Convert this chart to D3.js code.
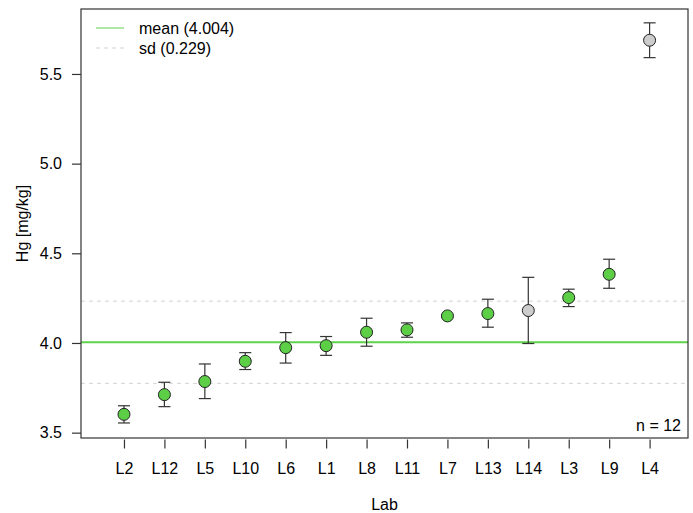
<!DOCTYPE html>
<html>
<head>
<meta charset="utf-8">
<script src="https://cdn.jsdelivr.net/npm/d3@7"></script>
<style>
  body { margin: 0; background: #fff; }
  text { font-family: "Liberation Sans", Arial, sans-serif; fill: #000; }
</style>
</head>
<body>
<div id="chart"></div>
<script>
// lab labels, sorted by value
var labs = ["L2", "L12", "L5", "L10", "L6", "L1", "L8", "L11", "L7", "L13", "L14", "L3", "L9", "L4"];
var values = [3.602, 3.712, 3.785, 3.898, 3.974, 3.985, 4.060, 4.073, 4.151, 4.164, 4.181, 4.253, 4.383, 5.688];
var upper = [3.650, 3.781, 3.883, 3.946, 4.058, 4.036, 4.138, 4.112, 4.158, 4.244, 4.366, 4.300, 4.467, 5.785];
var lower = [3.554, 3.645, 3.690, 3.852, 3.888, 3.931, 3.982, 4.032, 4.144, 4.088, 3.997, 4.203, 4.305, 5.591];
var excluded = [false, false, false, false, false, false, false, false, false, false, true, false, false, true];
var yTicks = [3.5, 4.0, 4.5, 5.0, 5.5];
var meanVal = 4.004;
var sdVal = 0.229;
var nLabs = 12;

var width = 693, height = 513;
var margin = { top: 9, right: 5, bottom: 75, left: 81 };
var fs = 16;

var svg = d3.select("#chart").append("svg")
    .attr("width", width)
    .attr("height", height);

var x = d3.scaleLinear()
    .domain([-0.063, 14.95])
    .range([margin.left, width - margin.right]);

var y = d3.scaleLinear()
    .domain([3.4702, 5.8622])
    .range([height - margin.bottom, margin.top]);

var data = labs.map(function(d, i) {
    return { lab: d, idx: i + 1, value: values[i], hi: upper[i], lo: lower[i], out: excluded[i] };
});

// sd lines
[meanVal + sdVal, meanVal - sdVal].forEach(function(v) {
    svg.append("line")
        .attr("x1", margin.left).attr("x2", width - margin.right)
        .attr("y1", y(v)).attr("y2", y(v))
        .attr("stroke", "#d3d3d3")
        .attr("stroke-width", 1)
        .attr("stroke-dasharray", "4,4");
});

// mean line
svg.append("line")
    .attr("x1", margin.left).attr("x2", width - margin.right)
    .attr("y1", y(meanVal)).attr("y2", y(meanVal))
    .attr("stroke", "#5fd24b")
    .attr("stroke-width", 2);

// error bars
var bars = svg.append("g").attr("class", "errorbars");
data.forEach(function(d) {
    var cx = x(d.idx);
    var g = bars.append("g").attr("stroke", "#333").attr("stroke-width", 1.2);
    g.append("line").attr("x1", cx).attr("x2", cx).attr("y1", y(d.hi)).attr("y2", y(d.lo));
    g.append("line").attr("x1", cx - 6).attr("x2", cx + 6).attr("y1", y(d.hi)).attr("y2", y(d.hi));
    g.append("line").attr("x1", cx - 6).attr("x2", cx + 6).attr("y1", y(d.lo)).attr("y2", y(d.lo));
});

// points
svg.append("g").selectAll("circle")
    .data(data)
    .enter()
    .append("circle")
    .attr("cx", function(d) { return x(d.idx); })
    .attr("cy", function(d) { return y(d.value); })
    .attr("r", 6)
    .attr("fill", function(d) { return d.out ? "#cccccc" : "#5ccf46"; })
    .attr("stroke", "#222")
    .attr("stroke-width", 1);

// box
svg.append("rect")
    .attr("x", margin.left)
    .attr("y", margin.top)
    .attr("width", width - margin.left - margin.right)
    .attr("height", height - margin.top - margin.bottom)
    .attr("fill", "none")
    .attr("stroke", "#333")
    .attr("stroke-width", 1.2);

// y axis
var yAxis = d3.axisLeft(y)
    .tickValues(yTicks)
    .tickFormat(d3.format(".1f"))
    .tickSize(9)
    .tickPadding(10);

var gy = svg.append("g")
    .attr("class", "y-axis axis")
    .attr("transform", "translate(" + margin.left + ",0)")
    .call(yAxis);
gy.select(".domain").remove();
gy.selectAll("line").attr("stroke", "#333").attr("stroke-width", 1.2);
gy.selectAll("text").attr("font-size", fs).attr("font-family", "Liberation Sans, Arial, sans-serif").attr("fill", "#000");

// x axis
var xAxis = d3.axisBottom(x)
    .tickValues(data.map(function(d) { return d.idx; }))
    .tickFormat(function(d) { return labs[d - 1]; })
    .tickSize(9)
    .tickPadding(14);

var gx = svg.append("g")
    .attr("class", "x-axis axis")
    .attr("transform", "translate(0," + (height - margin.bottom + 1.5) + ")")
    .call(xAxis);
gx.select(".domain").remove();
gx.selectAll("line").attr("stroke", "#333").attr("stroke-width", 1.2);
gx.selectAll("text").attr("font-size", fs).attr("font-family", "Liberation Sans, Arial, sans-serif").attr("fill", "#000");

// axis titles
svg.append("text")
    .attr("x", (margin.left + width - margin.right) / 2)
    .attr("y", 510)
    .attr("text-anchor", "middle")
    .attr("font-size", fs)
    .text("Lab");

svg.append("text")
    .attr("transform", "translate(28," + ((margin.top + height - margin.bottom) / 2) + ") rotate(-90)")
    .attr("text-anchor", "middle")
    .attr("font-size", fs)
    .text("Hg [mg/kg]");

// n label
svg.append("text")
    .attr("x", 681)
    .attr("y", 431)
    .attr("text-anchor", "end")
    .attr("font-size", fs)
    .text("n = " + nLabs);

// legend
var legend = svg.append("g").attr("class", "legend");
legend.append("line")
    .attr("x1", 96).attr("x2", 124).attr("y1", 28).attr("y2", 28)
    .attr("stroke", "#5fd24b").attr("stroke-width", 1);
legend.append("text")
    .attr("x", 139).attr("y", 34)
    .attr("font-size", fs)
    .text("mean (" + meanVal.toFixed(3) + ")");
legend.append("line")
    .attr("x1", 96).attr("x2", 124).attr("y1", 48).attr("y2", 48)
    .attr("stroke", "#d3d3d3").attr("stroke-width", 1)
    .attr("stroke-dasharray", "4,4");
legend.append("text")
    .attr("x", 139).attr("y", 54)
    .attr("font-size", fs)
    .text("sd (" + sdVal.toFixed(3) + ")");
</script>
</body>
</html>
